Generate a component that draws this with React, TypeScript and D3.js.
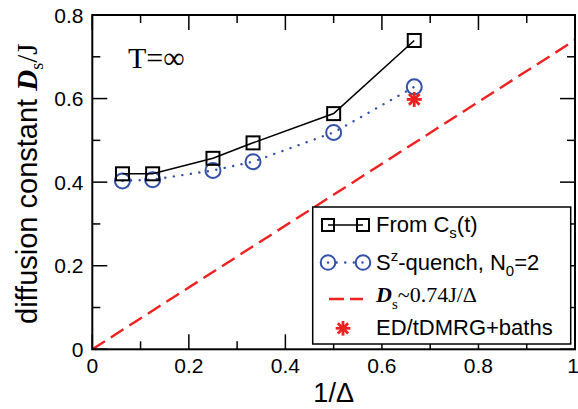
import React from "react";
import * as d3 from "d3";

const invDelta = [0.0625, 0.125, 0.25, 0.333, 0.5, 0.667];
const fromCs = [0.42, 0.42, 0.457, 0.494, 0.564, 0.739];
const quench = [0.403, 0.406, 0.428, 0.449, 0.519, 0.628];
const edX = [0.667];
const edY = [0.598];
const slope = 0.74;
const xTicks = [0, 0.2, 0.4, 0.6, 0.8, 1];
const yTicks = [0, 0.2, 0.4, 0.6, 0.8];
const xMinor = [0.1, 0.3, 0.5, 0.7, 0.9];
const yMinor = [0.1, 0.3, 0.5, 0.7];

const W = 578;
const H = 409;
const L = 92.3, R = 575, T = 15, B = 349.3;
const BLUE = "#3450a8";
const RED = "#f02020";
const SANS = "'Liberation Sans', Arial, Helvetica, sans-serif";
const SERIF = "'Liberation Serif', 'Times New Roman', serif";

function Star({ x, y, s }: { x: number; y: number; s: number }) {
  const angles = [0, 45, 90, 135];
  return (
    <g stroke={RED} strokeWidth={2.8}>
      {angles.map((a) => {
        const r = (a * Math.PI) / 180;
        return (
          <line key={a} x1={x - s * Math.cos(r)} y1={y - s * Math.sin(r)} x2={x + s * Math.cos(r)} y2={y + s * Math.sin(r)} />
        );
      })}
    </g>
  );
}

export default function App() {
  const x = d3.scaleLinear().domain([0, 1]).range([L, R]);
  const y = d3.scaleLinear().domain([0, 0.8]).range([B, T]);
  const line = d3.line<[number, number]>().x((d) => x(d[0])).y((d) => y(d[1]));
  const csPts = invDelta.map((v, i) => [v, fromCs[i]] as [number, number]);
  const qPts = invDelta.map((v, i) => [v, quench[i]] as [number, number]);
  const sq = 13;
  const cr = 7.5;

  return (
    <svg width={W} height={H} style={{ position: "absolute", left: 0, top: 0, background: "#fff" }}>
      <rect x={0} y={0} width={W} height={H} fill="#fff" />
      {/* red dashed */}
      <path d={line([[0, 0], [1, slope]]) || ""} fill="none" stroke={RED} strokeWidth={2.4} strokeDasharray="15 7" />
      {/* quench dotted */}
      <path d={line(qPts) || ""} fill="none" stroke={BLUE} strokeWidth={2.4} strokeDasharray="0.1 8.5" strokeLinecap="round" />
      {qPts.map((p, i) => (
        <circle key={i} cx={x(p[0])} cy={y(p[1])} r={cr} fill="none" stroke={BLUE} strokeWidth={2} />
      ))}
      {/* from Cs */}
      <path d={line(csPts) || ""} fill="none" stroke="#000" strokeWidth={1.6} />
      {csPts.map((p, i) => (
        <rect key={i} x={x(p[0]) - sq / 2} y={y(p[1]) - sq / 2} width={sq} height={sq} fill="none" stroke="#000" strokeWidth={2} />
      ))}
      {edX.map((v, i) => (
        <Star key={i} x={x(v)} y={y(edY[i])} s={7.5} />
      ))}

      {/* frame */}
      <rect x={L} y={T} width={R - L} height={B - T} fill="none" stroke="#000" strokeWidth={2} />
      {/* ticks */}
      <g stroke="#000" strokeWidth={1.5}>
        {xTicks.map((t) => (
          <g key={"xt" + t}>
            <line x1={x(t)} x2={x(t)} y1={B} y2={B - 15} />
            <line x1={x(t)} x2={x(t)} y1={T} y2={T + 15} />
          </g>
        ))}
        {xMinor.map((t) => (
          <g key={"xm" + t}>
            <line x1={x(t)} x2={x(t)} y1={B} y2={B - 8} />
            <line x1={x(t)} x2={x(t)} y1={T} y2={T + 8} />
          </g>
        ))}
        {yTicks.map((t) => (
          <g key={"yt" + t}>
            <line x1={L} x2={L + 15} y1={y(t)} y2={y(t)} />
            <line x1={R} x2={R - 15} y1={y(t)} y2={y(t)} />
          </g>
        ))}
        {yMinor.map((t) => (
          <g key={"ym" + t}>
            <line x1={L} x2={L + 8} y1={y(t)} y2={y(t)} />
            <line x1={R} x2={R - 8} y1={y(t)} y2={y(t)} />
          </g>
        ))}
      </g>
      {/* tick labels */}
      <g fontFamily={SANS} fontSize={21} fill="#000">
        {xTicks.map((t) => (
          <text key={"xl" + t} x={t === 1 ? x(t) - 2 : x(t)} y={373} textAnchor="middle">
            {d3.format("~g")(t)}
          </text>
        ))}
        {yTicks.map((t) => (
          <text key={"yl" + t} x={83.5} y={y(t) + 7.5} textAnchor="end">
            {d3.format("~g")(t)}
          </text>
        ))}
      </g>
      {/* axis titles */}
      <text x={(L + R) / 2} y={402} textAnchor="middle" fontFamily={SANS} fontSize={27}>
        1/Δ
      </text>
      <text transform="translate(37,324) rotate(-90)" fontFamily={SANS} fontSize={29}>
        diffusion constant{" "}
        <tspan fontFamily={SERIF} fontStyle="italic" fontWeight="bold">D</tspan>
        <tspan fontFamily={SERIF} fontSize={18} dy={6}>s</tspan>
        <tspan fontFamily={SERIF} dy={-6}>/J</tspan>
      </text>
      <text x={128} y={68} fontFamily={SERIF} fontSize={30}>
        T=∞
      </text>

      {/* legend */}
      <rect x={312.7} y={207} width={258} height={137} fill="#fff" stroke="#000" strokeWidth={1.5} />
      <line x1={328} x2={363} y1={225} y2={225} stroke="#000" strokeWidth={1.6} />
      <rect x={328 - 6} y={225 - 6} width={12} height={12} fill="none" stroke="#000" strokeWidth={2} />
      <rect x={363 - 6} y={225 - 6} width={12} height={12} fill="none" stroke="#000" strokeWidth={2} />
      <line x1={328} x2={363} y1={262.5} y2={262.5} stroke={BLUE} strokeWidth={2.4} strokeDasharray="0.1 8.5" strokeLinecap="round" />
      <circle cx={328} cy={262.5} r={7.3} fill="none" stroke={BLUE} strokeWidth={2} />
      <circle cx={363} cy={262.5} r={7.3} fill="none" stroke={BLUE} strokeWidth={2} />
      <line x1={329} x2={363} y1={299} y2={299} stroke={RED} strokeWidth={2.4} strokeDasharray="15 6" />
      <Star x={343} y={328.3} s={7.3} />
      <g fontFamily={SANS} fontSize={22} fill="#000">
        <text x={376} y={231.7}>
          From C<tspan fontSize={15} dy={6}>s</tspan>
          <tspan dy={-6}>(t)</tspan>
        </text>
        <text x={376} y={270}>
          S<tspan fontSize={15} dy={-9}>z</tspan>
          <tspan dy={9}>-quench, N</tspan>
          <tspan fontSize={15} dy={6}>0</tspan>
          <tspan dy={-6}>=2</tspan>
        </text>
        <text x={376} y={302} fontFamily={SERIF} fontSize={22}>
          <tspan fontStyle="italic" fontWeight="bold">D</tspan>
          <tspan fontSize={15} dy={7}>s</tspan>
          <tspan dy={-7}>~0.74J/Δ</tspan>
        </text>
        <text x={376} y={335}>
          ED/tDMRG+baths
        </text>
      </g>
    </svg>
  );
}
